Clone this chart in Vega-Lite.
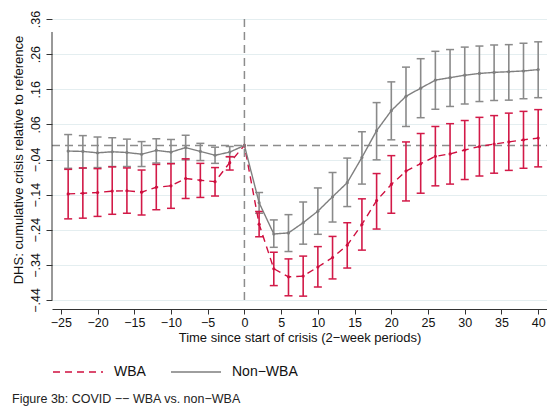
{
  "$schema": "https://vega.github.io/schema/vega-lite/v6.json",
  "width": 495,
  "height": 281,
  "autosize": "none",
  "padding": {"left": 52, "top": 19, "right": 0, "bottom": 107},
  "background": "white",
  "title": {"text": "Figure 3b: COVID −− WBA vs. non−WBA", "orient": "bottom", "anchor": "start", "fontSize": 12.5, "fontWeight": "normal", "color": "#222222", "offset": 14, "font": "Liberation Sans"},
  "config": {
    "view": {"stroke": null},
    "font": "Liberation Sans",
    "axis": {"labelOverlap": false, "labelFlush": false, "labelBound": false},
    "legend": {"orient": "bottom", "direction": "horizontal", "title": null, "symbolType": "stroke", "symbolSize": 2500, "symbolStrokeWidth": 1.5, "labelFontSize": 14, "labelColor": "#111111", "labelOffset": 10, "columnPadding": 22, "offset": 1, "labelFont": "Liberation Sans"}
  },
  "datasets": {
    "est": [
      {"t": -24, "g": "WBA", "est": -0.138, "lo": -0.209, "hi": -0.068},
      {"t": -22, "g": "WBA", "est": -0.136, "lo": -0.207, "hi": -0.064},
      {"t": -20, "g": "WBA", "est": -0.134, "lo": -0.202, "hi": -0.066},
      {"t": -18, "g": "WBA", "est": -0.130, "lo": -0.196, "hi": -0.061},
      {"t": -16, "g": "WBA", "est": -0.129, "lo": -0.193, "hi": -0.064},
      {"t": -14, "g": "WBA", "est": -0.133, "lo": -0.198, "hi": -0.070},
      {"t": -12, "g": "WBA", "est": -0.119, "lo": -0.183, "hi": -0.054},
      {"t": -10, "g": "WBA", "est": -0.115, "lo": -0.179, "hi": -0.052},
      {"t": -8, "g": "WBA", "est": -0.094, "lo": -0.151, "hi": -0.038},
      {"t": -6, "g": "WBA", "est": -0.099, "lo": -0.148, "hi": -0.051},
      {"t": -4, "g": "WBA", "est": -0.103, "lo": -0.144, "hi": -0.063},
      {"t": -2, "g": "WBA", "est": -0.049, "lo": -0.070, "hi": -0.032},
      {"t": 0, "g": "WBA", "est": 0, "lo": null, "hi": null},
      {"t": 2, "g": "WBA", "est": -0.224, "lo": -0.260, "hi": -0.188},
      {"t": 4, "g": "WBA", "est": -0.351, "lo": -0.399, "hi": -0.304},
      {"t": 6, "g": "WBA", "est": -0.374, "lo": -0.428, "hi": -0.323},
      {"t": 8, "g": "WBA", "est": -0.372, "lo": -0.429, "hi": -0.315},
      {"t": 10, "g": "WBA", "est": -0.346, "lo": -0.403, "hi": -0.288},
      {"t": 12, "g": "WBA", "est": -0.319, "lo": -0.380, "hi": -0.259},
      {"t": 14, "g": "WBA", "est": -0.284, "lo": -0.349, "hi": -0.220},
      {"t": 16, "g": "WBA", "est": -0.225, "lo": -0.298, "hi": -0.152},
      {"t": 18, "g": "WBA", "est": -0.157, "lo": -0.238, "hi": -0.080},
      {"t": 20, "g": "WBA", "est": -0.111, "lo": -0.193, "hi": -0.029},
      {"t": 22, "g": "WBA", "est": -0.073, "lo": -0.158, "hi": 0.010},
      {"t": 24, "g": "WBA", "est": -0.052, "lo": -0.136, "hi": 0.034},
      {"t": 26, "g": "WBA", "est": -0.031, "lo": -0.115, "hi": 0.054},
      {"t": 28, "g": "WBA", "est": -0.024, "lo": -0.110, "hi": 0.062},
      {"t": 30, "g": "WBA", "est": -0.013, "lo": -0.097, "hi": 0.071},
      {"t": 32, "g": "WBA", "est": -0.003, "lo": -0.087, "hi": 0.080},
      {"t": 34, "g": "WBA", "est": 0.004, "lo": -0.079, "hi": 0.085},
      {"t": 36, "g": "WBA", "est": 0.010, "lo": -0.071, "hi": 0.092},
      {"t": 38, "g": "WBA", "est": 0.016, "lo": -0.065, "hi": 0.097},
      {"t": 40, "g": "WBA", "est": 0.021, "lo": -0.061, "hi": 0.102},
      {"t": -24, "g": "Non−WBA", "est": -0.016, "lo": -0.065, "hi": 0.031},
      {"t": -22, "g": "Non−WBA", "est": -0.017, "lo": -0.065, "hi": 0.028},
      {"t": -20, "g": "Non−WBA", "est": -0.021, "lo": -0.063, "hi": 0.024},
      {"t": -18, "g": "Non−WBA", "est": -0.018, "lo": -0.060, "hi": 0.022},
      {"t": -16, "g": "Non−WBA", "est": -0.020, "lo": -0.060, "hi": 0.018},
      {"t": -14, "g": "Non−WBA", "est": -0.025, "lo": -0.060, "hi": 0.011},
      {"t": -12, "g": "Non−WBA", "est": -0.014, "lo": -0.050, "hi": 0.019},
      {"t": -10, "g": "Non−WBA", "est": -0.019, "lo": -0.051, "hi": 0.017},
      {"t": -8, "g": "Non−WBA", "est": -0.006, "lo": -0.041, "hi": 0.029},
      {"t": -6, "g": "Non−WBA", "est": -0.017, "lo": -0.043, "hi": 0.006},
      {"t": -4, "g": "Non−WBA", "est": -0.028, "lo": -0.051, "hi": -0.005},
      {"t": -2, "g": "Non−WBA", "est": -0.019, "lo": -0.032, "hi": -0.003},
      {"t": 0, "g": "Non−WBA", "est": 0, "lo": null, "hi": null},
      {"t": 2, "g": "Non−WBA", "est": -0.163, "lo": -0.193, "hi": -0.134},
      {"t": 4, "g": "Non−WBA", "est": -0.252, "lo": -0.290, "hi": -0.212},
      {"t": 6, "g": "Non−WBA", "est": -0.249, "lo": -0.302, "hi": -0.197},
      {"t": 8, "g": "Non−WBA", "est": -0.220, "lo": -0.281, "hi": -0.161},
      {"t": 10, "g": "Non−WBA", "est": -0.187, "lo": -0.253, "hi": -0.121},
      {"t": 12, "g": "Non−WBA", "est": -0.146, "lo": -0.218, "hi": -0.077},
      {"t": 14, "g": "Non−WBA", "est": -0.106, "lo": -0.174, "hi": -0.036},
      {"t": 16, "g": "Non−WBA", "est": -0.034, "lo": -0.110, "hi": 0.039},
      {"t": 18, "g": "Non−WBA", "est": 0.042, "lo": -0.041, "hi": 0.122},
      {"t": 20, "g": "Non−WBA", "est": 0.099, "lo": 0.016, "hi": 0.181},
      {"t": 22, "g": "Non−WBA", "est": 0.140, "lo": 0.054, "hi": 0.223},
      {"t": 24, "g": "Non−WBA", "est": 0.163, "lo": 0.079, "hi": 0.247},
      {"t": 26, "g": "Non−WBA", "est": 0.186, "lo": 0.103, "hi": 0.268},
      {"t": 28, "g": "Non−WBA", "est": 0.193, "lo": 0.111, "hi": 0.273},
      {"t": 30, "g": "Non−WBA", "est": 0.200, "lo": 0.118, "hi": 0.280},
      {"t": 32, "g": "Non−WBA", "est": 0.205, "lo": 0.125, "hi": 0.283},
      {"t": 34, "g": "Non−WBA", "est": 0.208, "lo": 0.128, "hi": 0.286},
      {"t": 36, "g": "Non−WBA", "est": 0.210, "lo": 0.129, "hi": 0.287},
      {"t": 38, "g": "Non−WBA", "est": 0.212, "lo": 0.133, "hi": 0.291},
      {"t": 40, "g": "Non−WBA", "est": 0.216, "lo": 0.136, "hi": 0.295}
    ]
  },
  "data": {"name": "est"},
  "encoding": {
    "x": {"field": "t", "type": "quantitative",
      "scale": {"domain": [-26.2, 41.2], "nice": false, "zero": false},
      "axis": {"values": [-25, -20, -15, -10, -5, 0, 5, 10, 15, 20, 25, 30, 35, 40],
        "title": "Time since start of crisis (2−week periods)",
        "grid": false, "offset": 9, "domainColor": "#333333", "domainWidth": 1,
        "labelOverlap": false, "labelFlush": false, "labelBound": false, "labelSeparation": 0,
        "tickSize": 5, "tickColor": "#333333", "labelPadding": 2, "labelFontSize": 12.5, "labelColor": "#111111", "labelFont": "Liberation Sans",
        "titleFontSize": 13, "titleFontWeight": "normal", "titleColor": "#111111", "titlePadding": 3, "titleFont": "Liberation Sans"}
    },
    "y": {"field": "est", "type": "quantitative",
      "scale": {"domain": [-0.44, 0.36], "nice": false, "zero": false},
      "axis": {"values": [-0.44, -0.34, -0.24, -0.14, -0.04, 0.06, 0.16, 0.26, 0.36],
        "labelExpr": "replace(replace(format(datum.value, '.2f'), '0.', '.'), '-', '−')",
        "title": "DHS: cumulative crisis relative to reference",
        "domain": false, "grid": true, "gridColor": "#e4eef0", "gridWidth": 1,
        "tickSize": 6, "tickColor": "#333333", "tickWidth": 1,
        "labelAngle": -90, "labelAlign": "center", "labelBaseline": "bottom",
        "labelOverlap": false, "labelFlush": false, "labelBound": false, "labelSeparation": 0,
        "labelPadding": 4, "labelFontSize": 12.5, "labelColor": "#111111", "labelFont": "Liberation Sans",
        "titleFontSize": 13, "titleFontWeight": "normal", "titleColor": "#111111", "titlePadding": 4, "titleFont": "Liberation Sans"}
    }
  },
  "layer": [
    {
      "data": {"values": [{"ref": 0, "ya": -0.44, "yb": 0.36}]},
      "mark": {"type": "rule", "stroke": "#8c8c8c", "strokeWidth": 1.5, "strokeDash": [8, 5]},
      "encoding": {
        "x": {"field": "ref", "type": "quantitative"},
        "y": {"field": "ya", "type": "quantitative"},
        "y2": {"field": "yb"}
      }
    },
    {
      "data": {"values": [{"ref": 0, "xa": -26.2, "xb": 41.2}]},
      "mark": {"type": "rule", "stroke": "#8c8c8c", "strokeWidth": 1.5, "strokeDash": [8, 5]},
      "encoding": {
        "x": {"field": "xa", "type": "quantitative"},
        "x2": {"field": "xb"},
        "y": {"field": "ref", "type": "quantitative"}
      }
    },
    {
      "data": {"values": [{"xa": -26.2, "ya": -0.44, "yb": 0.323}]},
      "mark": {"type": "rule", "stroke": "#333333", "strokeWidth": 1},
      "encoding": {
        "x": {"field": "xa", "type": "quantitative"},
        "y": {"field": "ya", "type": "quantitative"},
        "y2": {"field": "yb"}
      }
    },
    {
      "transform": [{"filter": "datum.lo != null && datum.g == 'Non−WBA'"}, {"calculate": "datum.lo", "as": "est"}],
      "mark": {"type": "rule", "stroke": "#8a8a8a", "strokeWidth": 1.6},
      "encoding": {
        "y2": {"field": "hi"}
      }
    },
    {
      "transform": [{"filter": "datum.lo != null && datum.g == 'Non−WBA'"}, {"fold": ["lo", "hi"], "as": ["k", "est"]}],
      "mark": {"type": "tick", "orient": "horizontal", "color": "#8a8a8a", "size": 8, "thickness": 1.5, "opacity": 1}
    },
    {
      "transform": [{"filter": "datum.lo != null && datum.g == 'WBA'"}, {"calculate": "datum.lo", "as": "est"}],
      "mark": {"type": "rule", "stroke": "#d21a48", "strokeWidth": 1.6},
      "encoding": {
        "y2": {"field": "hi"}
      }
    },
    {
      "transform": [{"filter": "datum.lo != null && datum.g == 'WBA'"}, {"fold": ["lo", "hi"], "as": ["k", "est"]}],
      "mark": {"type": "tick", "orient": "horizontal", "color": "#d21a48", "size": 8, "thickness": 1.5, "opacity": 1}
    },
    {
      "mark": {"type": "line", "strokeWidth": 1.4, "point": {"filled": true, "size": 10}},
      "encoding": {
        "color": {"field": "g", "type": "nominal", "scale": {"domain": ["WBA", "Non−WBA"], "range": ["#cf0f3f", "#7f7f7f"]}, "legend": {"title": null}},
        "strokeDash": {"field": "g", "type": "nominal", "scale": {"domain": ["WBA", "Non−WBA"], "range": [[7, 5], [1, 0]]}, "legend": {"title": null}}
      }
    }
  ]
}
